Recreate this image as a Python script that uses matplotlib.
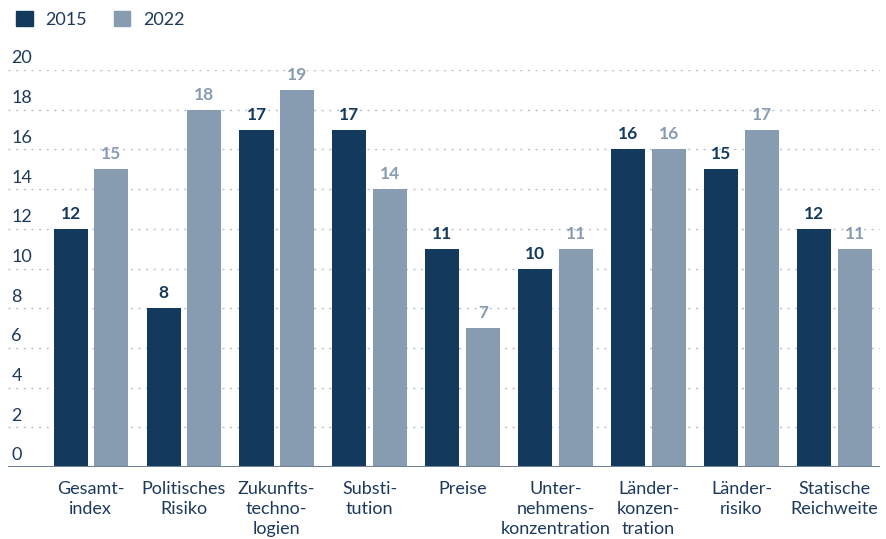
import numpy as np
import matplotlib.pyplot as plt
from matplotlib.patches import Patch

# Daten
kategorien = ['Gesamt-\nindex', 'Politisches\nRisiko', 'Zukunfts-\ntechno-\nlogien',
              'Substi-\ntution', 'Preise', 'Unter-\nnehmens-\nkonzentration',
              'Länder-\nkonzen-\ntration', 'Länder-\nrisiko', 'Statische\nReichweite']
werte_2015 = [12, 8, 17, 17, 11, 10, 16, 15, 12]
werte_2022 = [15, 18, 19, 14, 7, 11, 16, 17, 11]
y_ticks = [0, 2, 4, 6, 8, 10, 12, 14, 16, 18, 20]

dunkel = '#133a5c'
hell = '#879bb1'
text_farbe = '#1d3a5c'

plt.rcParams['font.family'] = ['Lato', 'DejaVu Sans']

fig = plt.figure(figsize=(8.86, 5.39), dpi=100)
ax = fig.add_axes([8/886, 72/539, 872/886, (467-70)/539])

x = np.arange(len(kategorien))
breite = 0.366
versatz = 0.217

ax.bar(x - versatz, werte_2015, breite, color=dunkel, zorder=3)
ax.bar(x + versatz, werte_2022, breite, color=hell, zorder=3)

for xi, v in zip(x, werte_2015):
    ax.text(xi - versatz, v + 0.35, str(v), ha='center', va='bottom',
            fontsize=12.5, fontweight='bold', color=dunkel)
for xi, v in zip(x, werte_2022):
    ax.text(xi + versatz, v + 0.35, str(v), ha='center', va='bottom',
            fontsize=12.5, fontweight='bold', color=hell)

ax.set_xlim(-0.89, 8.49)
ax.set_ylim(0, 20)

# gepunktete Gitterlinien, Beschriftung oberhalb der Linie
for t in y_ticks:
    if t > 0:
        ax.axhline(t, color='#b5c0cc', linestyle=(0, (1.5, 4)), linewidth=1, zorder=1)
    ax.text(0.004, t + 0.18, str(t), transform=ax.get_yaxis_transform(),
            ha='left', va='bottom', fontsize=13, color=text_farbe)
ax.axhline(0, color='#6f8296', linewidth=1.5, zorder=4)

ax.set_yticks([])
ax.set_xticks(x)
ax.set_xticklabels(kategorien, fontsize=13, color=text_farbe, linespacing=1.3)
ax.tick_params(axis='x', length=0, pad=10)
for s in ax.spines.values():
    s.set_visible(False)

handles = [Patch(color=dunkel, label='2015'), Patch(color=hell, label='2022')]
fig.legend(handles=handles, loc='upper left', bbox_to_anchor=(0.0, 1.01), ncol=2,
           frameon=False, fontsize=13, handlelength=0.9, handleheight=0.9,
           handletextpad=0.7, columnspacing=1.5, labelcolor=text_farbe)

fig.savefig('out.png', dpi=100)
